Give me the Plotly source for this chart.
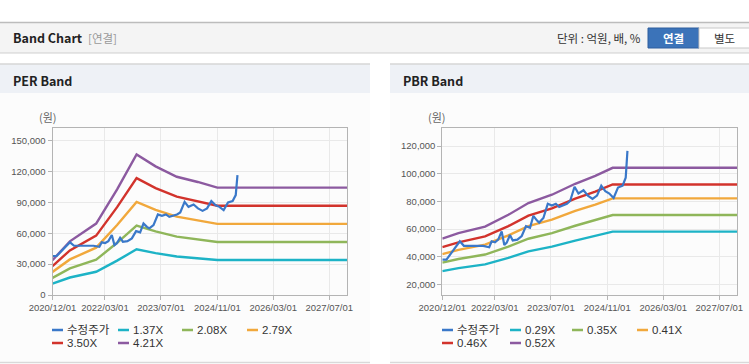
import plotly.graph_objects as go

W, H = 749, 364

# ---------------- data ----------------
price_dates = ['2020-12-01', '2021-01-06', '2021-05-02', '2021-06-06', '2021-08-26', '2021-11-21',
               '2022-01-12', '2022-02-02', '2022-03-03', '2022-03-31', '2022-04-30', '2022-05-23',
               '2022-06-13', '2022-07-11', '2022-08-04', '2022-09-13', '2022-10-21', '2022-11-27',
               '2023-01-01', '2023-01-30', '2023-03-01', '2023-03-21', '2023-04-27', '2023-06-04',
               '2023-07-09', '2023-08-13', '2023-09-11', '2023-11-17', '2023-12-15', '2024-01-22',
               '2024-02-25', '2024-04-09', '2024-05-17', '2024-06-26', '2024-08-04', '2024-09-10',
               '2024-10-15', '2024-11-19', '2024-12-26', '2025-02-02', '2025-03-14', '2025-04-10',
               '2025-04-25']
price_values = [37900, 37900, 51200, 47900, 47900, 47900,
                46900, 51200, 50500, 52400, 58300, 48500,
                50200, 55700, 51800, 52400, 55000, 62100,
                60900, 69600, 66300, 64700, 68000, 78300,
                77000, 78300, 76000, 78300, 80300, 90600,
                85700, 88000, 84200, 81800, 84200, 91300,
                87400, 85700, 82500, 90000, 91300, 97100,
                116500]

per_dates = ['2020-12-01', '2021-05-01', '2021-12-15', '2022-06-15', '2022-12-01',
             '2023-05-15', '2023-11-15', '2024-05-15', '2024-11-01', '2027-12-10']
per_137 = [11000, 16990, 22610, 33430, 44460, 40690, 37400, 35760, 33980, 33980]
per_208 = [16700, 25790, 34320, 50750, 67500, 61780, 56780, 54290, 51580, 51580]
per_279 = [22400, 34600, 46040, 68080, 90540, 82860, 76170, 72820, 69190, 69190]
per_350 = [28110, 43400, 57750, 85400, 113580, 103950, 95550, 91350, 86800, 86800]
per_421 = [33810, 52200, 69470, 102720, 136610, 125040, 114930, 109880, 104410, 104410]

pbr_dates = ['2020-12-01', '2021-04-20', '2021-12-07', '2022-06-27', '2022-12-18',
             '2023-07-10', '2024-01-28', '2024-07-20', '2024-12-18', '2027-12-10']
pbr_029 = [29640, 31810, 34480, 39210, 43940, 47300, 51710, 54930, 58150, 58150]
pbr_035 = [35770, 38400, 41620, 47320, 53030, 57090, 62410, 66290, 70180, 70180]
pbr_041 = [41900, 44980, 48750, 55430, 62120, 66870, 73100, 77650, 82210, 82210]
pbr_046 = [47010, 50460, 54690, 62190, 69690, 75030, 82020, 87120, 92230, 92230]
pbr_052 = [53140, 57040, 61830, 70300, 78780, 84810, 92720, 98490, 104260, 104260]

x_ticks = ['2020-12-01', '2022-03-01', '2023-07-01', '2024-11-01', '2026-03-01', '2027-07-01']
x_tick_text = ['2020/12/01', '2022/03/01', '2023/07/01', '2024/11/01', '2026/03/01', '2027/07/01']
per_y_ticks = [0, 30000, 60000, 90000, 120000, 150000]
pbr_y_ticks = [20000, 40000, 60000, 80000, 100000, 120000]

per_names = ['수정주가', '1.37X', '2.08X', '2.79X', '3.50X', '4.21X']
pbr_names = ['수정주가', '0.29X', '0.35X', '0.41X', '0.46X', '0.52X']
colors = ['#3a78c9', '#1db3c6', '#8fb65a', '#f1a83c', '#d2332c', '#8c5aa0']

# ---------------- figure ----------------
fig = go.Figure()

per_series = [per_137, per_208, per_279, per_350, per_421]
pbr_series = [pbr_029, pbr_035, pbr_041, pbr_046, pbr_052]

for i, s in enumerate(per_series):
    fig.add_trace(go.Scatter(x=per_dates, y=s, mode='lines', name=per_names[i + 1],
                             line=dict(color=colors[i + 1], width=2.4), xaxis='x', yaxis='y',
                             showlegend=False))
fig.add_trace(go.Scatter(x=price_dates, y=price_values, mode='lines', name=per_names[0],
                         line=dict(color=colors[0], width=2.2), xaxis='x', yaxis='y', showlegend=False))

for i, s in enumerate(pbr_series):
    fig.add_trace(go.Scatter(x=pbr_dates, y=s, mode='lines', name=pbr_names[i + 1],
                             line=dict(color=colors[i + 1], width=2.4), xaxis='x2', yaxis='y2',
                             showlegend=False))
fig.add_trace(go.Scatter(x=price_dates, y=price_values, mode='lines', name=pbr_names[0],
                         line=dict(color=colors[0], width=2.2), xaxis='x2', yaxis='y2', showlegend=False))


def px(x):
    return x / W


def py(y):
    return 1 - y / H


tick_font = dict(family='Liberation Sans, Noto Sans CJK KR', size=9.5, color='#555555')
axis_common = dict(showline=True, linecolor='#b4b4b4', linewidth=1, mirror=True,
                   ticks='outside', ticklen=4, tickcolor='#b4b4b4', automargin=False,
                   showgrid=True, gridcolor='#e9e9e9', gridwidth=1, zeroline=False,
                   tickfont=tick_font)

plot_bottom, plot_top = 295, 128
fig.update_layout(
    width=W, height=H,
    autosize=False,
    margin=dict(l=0, r=0, t=0, b=0, pad=0, autoexpand=False),
    paper_bgcolor='white', plot_bgcolor='white',
    showlegend=False,
    xaxis=dict(domain=[px(52.5), px(347)], range=['2020-12-01', '2027-12-02'], type='date',
               tickvals=x_ticks, ticktext=x_tick_text, anchor='y', **axis_common),
    yaxis=dict(domain=[py(plot_bottom), py(plot_top)], range=[0, 162350],
               tickvals=per_y_ticks, tickformat=',d', anchor='x', **axis_common),
    xaxis2=dict(domain=[px(442.3), px(737.3)], range=['2020-12-01', '2027-12-04'], type='date',
                tickvals=x_ticks, ticktext=x_tick_text, anchor='y2', **axis_common),
    yaxis2=dict(domain=[py(plot_bottom), py(plot_top)], range=[12400, 133000],
                tickvals=pbr_y_ticks, tickformat=',d', anchor='x2', **axis_common),
)

shapes = []
annotations = []


def rect(x0, y0, x1, y1, fill, line_color=None, lw=0, layer='below'):
    shapes.append(dict(type='rect', xref='paper', yref='paper', x0=px(x0), x1=px(x1),
                       y0=py(y1), y1=py(y0), fillcolor=fill, layer=layer,
                       line=dict(color=line_color or fill, width=lw)))


def hline(x0, x1, y, color, width=1, layer='below'):
    shapes.append(dict(type='line', xref='paper', yref='paper', x0=px(x0), x1=px(x1),
                       y0=py(y), y1=py(y), line=dict(color=color, width=width), layer=layer))


def text(x, y, s, size=12, color='#333333', anchor='left', family='Noto Sans CJK KR, Liberation Sans'):
    annotations.append(dict(xref='paper', yref='paper', x=px(x), y=py(y), text=s, showarrow=False,
                            xanchor=anchor, yanchor='middle',
                            font=dict(size=size, color=color, family=family)))


# header bar
rect(0, 22, 749, 53, '#f4f4f4')
hline(0, 749, 22.5, '#bcbcbc', 1.5)
hline(0, 749, 53, '#cfcfcf', 1)
text(11, 38, '<b>Band Chart</b>', size=12.5, color='#222222')
text(86, 38, '[연결]', size=11.5, color='#999999')
text(643, 38, '단위 : 억원, 배, %', size=11.5, color='#333333', anchor='right')
shapes.append(dict(type='rect', xref='paper', yref='paper', x0=px(648), x1=px(699), y0=py(48),
                   y1=py(28), fillcolor='#3b73b9', line=dict(color='#2f5f9e', width=1), layer='below'))
shapes.append(dict(type='rect', xref='paper', yref='paper', x0=px(699), x1=px(749.5), y0=py(48),
                   y1=py(28), fillcolor='#ffffff', line=dict(color='#c8c8c8', width=1), layer='below'))
text(673.5, 38, '<b>연결</b>', size=11.5, color='#ffffff', anchor='center')
text(724, 38, '별도', size=11.5, color='#333333', anchor='center')

# panels
for (a, b) in [(0, 370), (390, 749)]:
    rect(a, 64, b, 93, '#eef1f6')
    hline(a, b, 64, '#d6d6d6', 1.5)
    rect(a, 93, b, 362, '#fcfcfc')
    hline(a, b, 362.5, '#d9d9d9', 1.5)
text(11, 80, '<b>PER Band</b>', size=12.5, color='#222222')
text(401, 80, '<b>PBR Band</b>', size=12.5, color='#222222')

# unit labels
text(47.5, 117, '(원)', size=11, color='#666666', anchor='center')
text(437, 117, '(원)', size=11, color='#666666', anchor='center')

# legends (manual)
leg_font = 'Liberation Sans, Noto Sans CJK KR'
per_leg_pos = [(52, 330), (118, 330), (182, 330), (247, 330), (52, 343), (118, 343)]
pbr_leg_pos = [(442, 330), (510, 330), (572, 330), (637, 330), (442, 343), (510, 343)]
for names, pos in [(per_names, per_leg_pos), (pbr_names, pbr_leg_pos)]:
    for k, (x, y) in enumerate(pos):
        hline(x, x + 11, y, colors[k], 2.5, layer='above')
        text(x + 13, y, names[k], size=11.5, color='#333333', family=leg_font)

fig.update_layout(shapes=shapes, annotations=annotations)

fig.write_html('out.html', config={'displayModeBar': False},
               post_script="document.body.style.margin='0';document.body.style.overflow='hidden';")
